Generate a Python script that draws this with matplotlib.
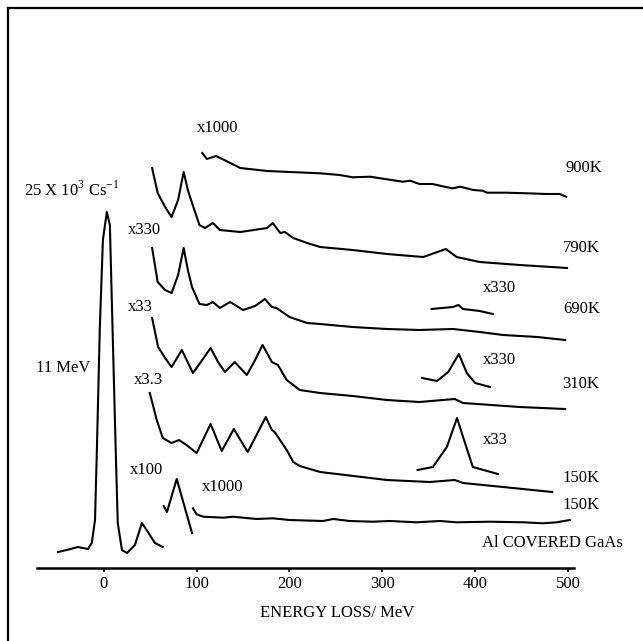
import matplotlib
matplotlib.use('Agg')
import matplotlib.pyplot as plt
from matplotlib.lines import Line2D

plt.rcParams['font.family'] = ['Liberation Serif', 'DejaVu Serif']
plt.rcParams['mathtext.fontset'] = 'custom'
plt.rcParams['mathtext.rm'] = 'Liberation Serif'

# energy loss (meV) and trace height above the axis (arbitrary units)
e_900 = [106, 111, 121, 147, 176, 233, 254, 268, 287, 305, 322, 330, 340, 354, 370, 376, 384,
         398, 408, 413, 434, 456, 477, 491, 498]
y_900 = [415, 409, 412, 400, 397, 394.7, 393, 390.7, 391.3, 388.7, 386.3, 387.3, 384, 384, 380.7,
         379.7, 381.3, 378, 377.3, 375.3, 375.3, 374.7, 374, 374, 371.3]

e_790 = [52, 58, 66, 73, 80, 86, 90.5, 95, 103, 109, 117.5, 125, 147, 176, 182, 190, 195, 204,
         219, 233, 268, 305, 344, 368.5, 380, 405, 448, 499]
y_790 = [400, 375, 361, 351, 368, 396, 378, 365, 343, 340, 345, 338, 336, 340, 345, 335, 336, 330,
         325, 321, 318, 314, 311, 319, 311, 306, 303, 300]

e_690 = [52, 58, 66, 73, 80, 86, 90.5, 95, 103, 111, 117.5, 125, 136, 150, 163, 173.5, 181, 186,
         200, 219, 233, 268, 305, 340, 376, 405, 430, 467, 497]
y_690 = [320, 286, 278, 275, 293, 320, 298, 281, 264, 263, 266, 260, 266, 258, 262, 269, 261, 260,
         251, 245, 244, 241, 239, 238, 239, 236, 233, 231, 228]
e_690_x330 = [353, 376, 382, 387, 405, 419]
y_690_x330 = [259, 261, 263, 259, 257, 254]

e_310 = [52, 58.5, 66, 73, 84, 96, 104.5, 115, 123, 130.5, 141, 154, 163, 171, 177, 181, 187.5,
         197, 211, 233, 268, 305, 340, 378, 387, 448, 497]
y_310 = [250, 221, 210, 201, 218, 195, 206, 220, 206, 196, 206, 193, 208, 223, 213, 206, 203,
         188, 178, 175, 172, 168, 166, 169, 165, 161, 159]
e_310_x330 = [343, 359, 371, 382.5, 391, 400, 416]
y_310_x330 = [190, 187, 196, 214, 195, 185, 181]

e_150 = [49.5, 57, 63.5, 73, 81, 89, 100, 115, 127, 140, 155, 174.5, 181, 184, 197, 204, 211,
         233, 305, 351, 378, 387, 430, 483]
y_150 = [175, 148, 130, 125, 128, 123, 115, 144, 117, 139, 116, 151, 138, 136, 118, 106, 102,
         96, 88, 86, 88, 85, 81, 76]
e_150_x33 = [338, 354.5, 369.5, 380.5, 387, 397.5, 424.5]
y_150_x33 = [98, 101, 121, 150, 131, 101, 94]

e_x100 = [64.5, 68, 78.5, 95]
y_x100 = [62, 56, 89, 35]
e_x1000 = [96, 100, 107, 129, 139, 164.5, 182, 200, 236, 247, 265, 290, 308, 337, 362, 380,
           416, 452, 473, 488, 502]
y_x1000 = [59.7, 53.7, 51.3, 50.3, 51.3, 49, 49.7, 48, 47, 49, 47, 46.3, 47, 45.7, 47, 45.7,
           46.3, 45.7, 44.7, 45.7, 48]

e_elastic = [-49.5, -40, -28, -17, -13, -9.5, -7.5, -4.3, -1, 3.2, 6.5, 9.7, 13, 15, 19.5, 25,
             33.5, 41, 47.5, 55, 63.5]
y_elastic = [16, 18, 21, 19, 25, 48, 118, 241, 328, 356, 343, 228, 111, 45, 18, 15, 23, 45, 36,
             25, 21]

x_ticks = [0, 100, 200, 300, 400, 500]

fig = plt.figure(figsize=(6.43, 6.41), dpi=100)
ax = fig.add_axes([37 / 643, 73 / 641, 537 / 643, 560 / 641])
ax.set_xlim(-72, 506.5)
ax.set_ylim(0, 560)

lw = 1.5
for e, y in [(e_900, y_900), (e_790, y_790), (e_690, y_690), (e_690_x330, y_690_x330),
             (e_310, y_310), (e_310_x330, y_310_x330), (e_150, y_150), (e_150_x33, y_150_x33),
             (e_x100, y_x100), (e_x1000, y_x1000), (e_elastic, y_elastic)]:
    ax.plot(e, y, color='black', lw=lw, solid_joinstyle='round', clip_on=False)

for s in ['top', 'right', 'left']:
    ax.spines[s].set_visible(False)
ax.spines['bottom'].set_linewidth(1.8)
ax.set_yticks([])
ax.set_xticks(x_ticks)
ax.tick_params(axis='x', length=3, width=1.2, pad=3, labelsize=12)

fs = 12
ax.text(123, 440, 'x1000', ha='center', va='center', fontsize=fs)
ax.text(-34.5, 378, r'25 X 10$^{3}$ Cs$^{-1}$', ha='center', va='center', fontsize=fs)
ax.text(44, 338, 'x330', ha='center', va='center', fontsize=fs)
ax.text(39, 261, 'x33', ha='center', va='center', fontsize=fs)
ax.text(-44, 200, '11 MeV', ha='center', va='center', fontsize=fs)
ax.text(48.5, 188, 'x3.3', ha='center', va='center', fontsize=fs)
ax.text(46, 98, 'x100', ha='center', va='center', fontsize=fs)
ax.text(128, 81, 'x1000', ha='center', va='center', fontsize=fs)

ax.text(497, 400, '900K', ha='left', va='center', fontsize=fs, clip_on=False)
ax.text(495, 320, '790K', ha='left', va='center', fontsize=fs, clip_on=False)
ax.text(408, 280, 'x330', ha='left', va='center', fontsize=fs)
ax.text(495, 259, '690K', ha='left', va='center', fontsize=fs, clip_on=False)
ax.text(408, 208, 'x330', ha='left', va='center', fontsize=fs)
ax.text(494, 184, '310K', ha='left', va='center', fontsize=fs, clip_on=False)
ax.text(408, 128, 'x33', ha='left', va='center', fontsize=fs)
ax.text(494, 90, '150K', ha='left', va='center', fontsize=fs, clip_on=False)
ax.text(494, 63, '150K', ha='left', va='center', fontsize=fs, clip_on=False)
ax.text(407, 25, 'Al COVERED GaAs', ha='left', va='center', fontsize=fs, clip_on=False)

ax.text(251, -45, 'ENERGY LOSS/ MeV', ha='center', va='center', fontsize=fs, clip_on=False)

# scanned frame (top and left edges only)
fig.add_artist(Line2D([8 / 643, 8 / 643], [0, 1 - 8 / 641], color='black', lw=1.6,
                      transform=fig.transFigure))
fig.add_artist(Line2D([8 / 643, 1], [1 - 8 / 641, 1 - 8 / 641], color='black', lw=1.6,
                      transform=fig.transFigure))

fig.savefig('out.png', dpi=100)
